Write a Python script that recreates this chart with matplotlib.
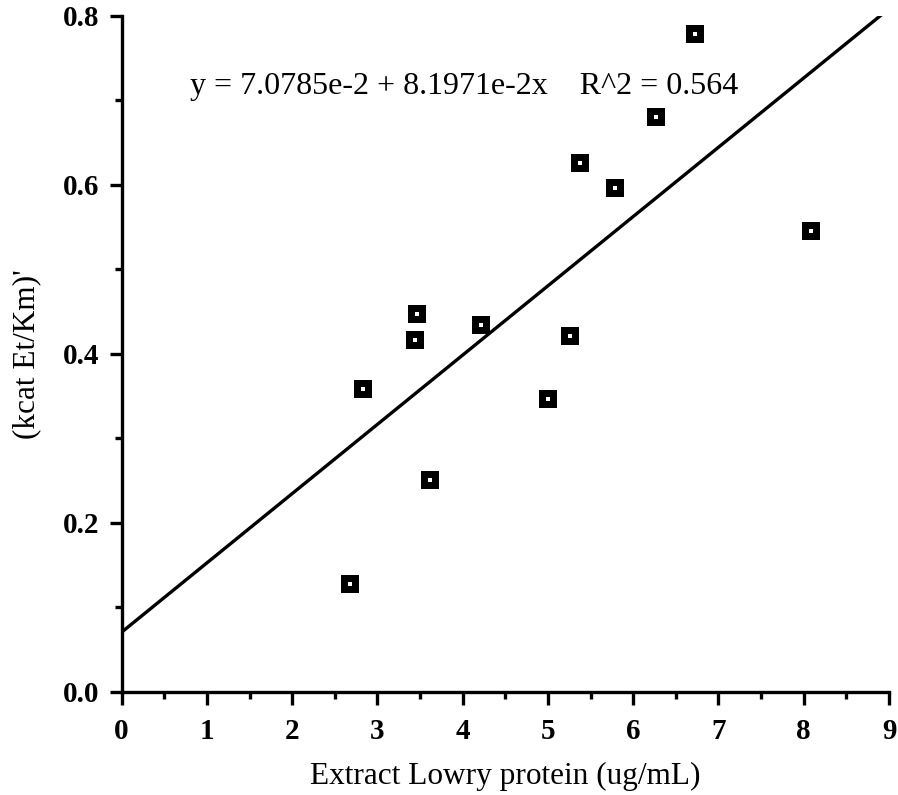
import matplotlib
matplotlib.use("Agg")
import matplotlib.pyplot as plt
import numpy as np
from matplotlib.ticker import MultipleLocator, FormatStrFormatter

protein = [2.68, 2.83, 3.44, 3.465, 3.62, 4.22, 5.006, 5.256, 5.38, 5.79, 6.264, 6.73, 8.08]
kcat = [0.128, 0.359, 0.416, 0.447, 0.251, 0.434, 0.347, 0.421, 0.626, 0.596, 0.680, 0.779, 0.546]
intercept = 7.0785e-2
slope = 8.1971e-2
r2 = 0.564

plt.rcParams['font.family'] = ['Liberation Serif', 'DejaVu Serif']

fig = plt.figure(figsize=(8.98, 7.95), dpi=100)
ax = fig.add_axes([0.1355, 0.1296, 0.8545, 0.8504])

xs = np.array([0.0, 9.0])
ax.plot(xs, intercept + slope * xs, color='black', lw=2.4, zorder=2)

ax.scatter(protein, kcat, marker='s', s=150, color='black', linewidths=0, zorder=3)
ax.scatter(protein, kcat, marker='s', s=11, color='white', linewidths=0, zorder=4)

ax.set_xlim(0, 9)
ax.set_ylim(0, 0.8)
ax.xaxis.set_major_locator(MultipleLocator(1))
ax.xaxis.set_minor_locator(MultipleLocator(0.5))
ax.yaxis.set_major_locator(MultipleLocator(0.2))
ax.yaxis.set_minor_locator(MultipleLocator(0.1))
ax.yaxis.set_major_formatter(FormatStrFormatter('%.1f'))

for s in ['top', 'right']:
    ax.spines[s].set_visible(False)
for s in ['left', 'bottom']:
    ax.spines[s].set_linewidth(2.4)

ax.tick_params(which='major', direction='out', length=9, width=2.4, labelsize=21)
ax.tick_params(axis='x', which='major', pad=10)
ax.tick_params(axis='y', which='major', pad=7)
ax.tick_params(which='minor', direction='out', length=5, width=2.4)
for lab in ax.get_xticklabels() + ax.get_yticklabels():
    lab.set_fontweight('bold')

ax.set_xlabel('Extract Lowry protein (ug/mL)', fontsize=22.5, labelpad=12)
ax.set_ylabel("(kcat Et/Km)'", fontsize=22.5, labelpad=16)

ax.text(0.80, 0.716, f"y = 7.0785e-2 + 8.1971e-2x    R^2 = {r2}", fontsize=23,
        va='center', ha='left')

fig.savefig('out.png', dpi=100)
